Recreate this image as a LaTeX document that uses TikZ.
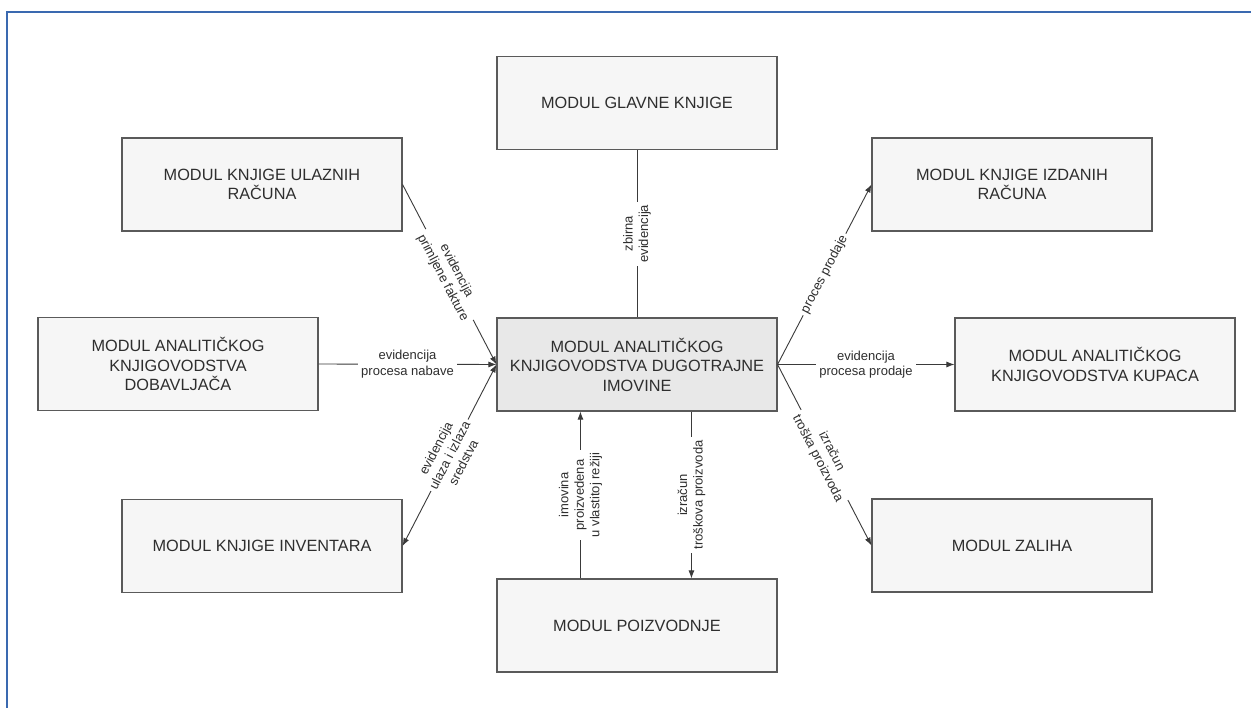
\documentclass[tikz,border=0pt]{standalone}
\usepackage{fontspec}
\setmainfont{Liberation Sans}
\usetikzlibrary{arrows.meta}
\definecolor{frameblue}{HTML}{3A69B0}
\definecolor{boxline}{HTML}{5A5A5A}
\definecolor{boxfill}{HTML}{F6F6F6}
\definecolor{centerfill}{HTML}{E8E8E8}
\definecolor{ink}{HTML}{2E2E2E}
\definecolor{wire}{HTML}{3A3A3A}
\begin{document}
\begin{tikzpicture}[x=1pt,y=-1pt,
  modbox/.style={draw=boxline, line width=1.1pt, fill=boxfill, minimum width=280pt, minimum height=93pt,
    align=center, text=ink, font=\fontsize{16.3}{19.5}\selectfont, inner sep=0pt},
  lbl/.style={fill=white, text=ink, align=center, font=\fontsize{13}{15.5}\selectfont, inner sep=3pt},
  wireline/.style={draw=wire, line width=0.9pt},
  tip/.style={-{Latex[length=8pt,width=6pt]}}
]
\useasboundingbox (0,0) rectangle (1251,708);
\fill[white] (0,0) rectangle (1251,708);
\draw[frameblue, line width=2pt] (7,708) -- (7,12) -- (1251,12);

\node[modbox] (glavne) at (637,103) {MODUL GLAVNE KNJIGE};
\node[modbox] (ulaz) at (262,184.5) {MODUL KNJIGE ULAZNIH\\RAČUNA};
\node[modbox] (dob) at (178,364) {MODUL ANALITIČKOG\\KNJIGOVODSTVA\\DOBAVLJAČA};
\node[modbox] (inv) at (262,546) {MODUL KNJIGE INVENTARA};
\node[modbox, fill=centerfill] (cen) at (637,364.5) {MODUL ANALITIČKOG\\KNJIGOVODSTVA DUGOTRAJNE\\IMOVINE};
\node[modbox] (poiz) at (637,625.5) {MODUL POIZVODNJE};
\node[modbox] (izd) at (1012,184.5) {MODUL KNJIGE IZDANIH\\RAČUNA};
\node[modbox] (kup) at (1095,364.5) {MODUL ANALITIČKOG\\KNJIGOVODSTVA KUPACA};
\node[modbox] (zal) at (1012,545.5) {MODUL ZALIHA};

% top
\draw[wireline] (glavne.south) -- node[lbl, rotate=90] {zbirna\\evidencija} (cen.north);
% top-left
\draw[wireline, tip] (ulaz.east) -- node[lbl, sloped] {evidencija\\primljene fakture} (cen.west);
% left
\draw[wireline, tip] (dob.east) -- node[lbl] {evidencija\\procesa nabave} (cen.west);
% bottom-left
\draw[wireline, {Latex[length=8pt,width=6pt]}-{Latex[length=8pt,width=6pt]}] (inv.east) -- node[lbl, sloped] {evidencija\\ulaza i izlaza\\sredstva} (cen.west);
% bottom
\draw[wireline, tip] ([xshift=84pt]poiz.north west) -- node[lbl, rotate=90] {imovina\\proizvedena\\u vlastitoj režiji} ([xshift=84pt]cen.south west);
\draw[wireline, tip] ([xshift=195pt]cen.south west) -- node[lbl, rotate=90] {izračun\\troškova proizvoda} ([xshift=195pt]poiz.north west);
% top-right
\draw[wireline, tip] (cen.east) -- node[lbl, sloped] {proces prodaje} (izd.west);
% right
\draw[wireline, tip] (cen.east) -- node[lbl] {evidencija\\procesa prodaje} (kup.west);
% bottom-right
\draw[wireline, tip] (cen.east) -- node[lbl, sloped] {izračun\\troška proizvoda} (zal.west);
\end{tikzpicture}
\end{document}
